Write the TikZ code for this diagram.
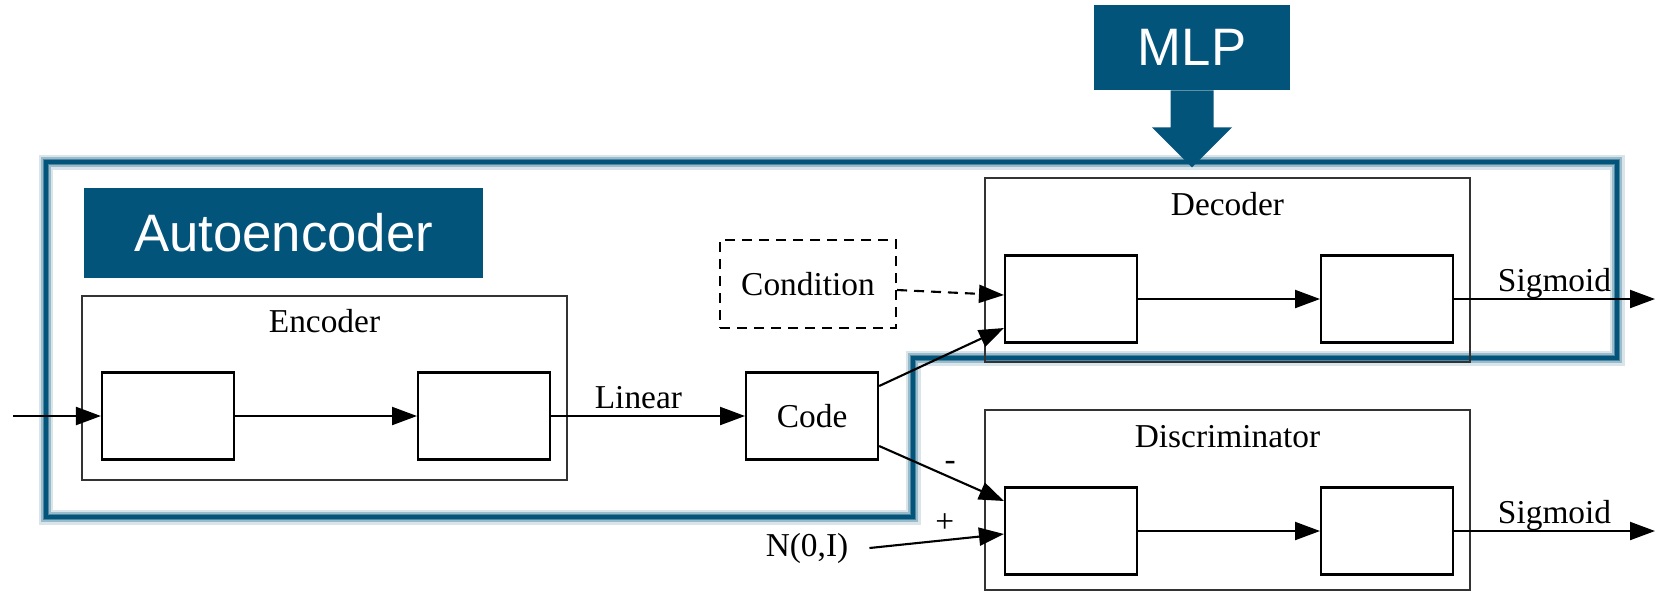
\documentclass[tikz,border=0pt]{standalone}
\usepackage{fontspec}
\setmainfont{Liberation Serif}
\newfontfamily\bannerfont{Liberation Sans}
\usetikzlibrary{arrows.meta, positioning}
\definecolor{aeblue}{RGB}{3,84,122}
\tikzset{
  blk/.style={
    rectangle,
    minimum width=2.64cm,
    minimum height=1.74cm,
    align=center,
    draw=black,
    line width=1.2pt
  },
  cond/.style={
    rectangle,
    minimum width=3.52cm,
    minimum height=1.76cm,
    align=center,
    draw=black,
    dash pattern=on 0.2cm off 0.14cm,
    line width=1.2pt
  },
  cluster/.style={
    rectangle,
    minimum width=9.7cm,
    minimum height=3.68cm,
    draw=black!80,
    line width=1.2pt
  },
  banner/.style={
    rectangle,
    fill=aeblue,
    text=white,
    font=\bannerfont\fontsize{30}{36}\selectfont
  },
  arrow/.style={line width=1.2pt, -{Triangle[length=0.5cm, width=0.36cm]}},
  dasharrow/.style={arrow, dash pattern=on 0.2cm off 0.14cm},
  lbl/.style={inner sep=1pt, text depth=0.25em},
  glow/.style={line join=miter}
}

\begin{document}
\begin{tikzpicture}[x=0.02cm, y=-0.02cm, font=\fontsize{19}{23}\selectfont]
  \useasboundingbox (0,0) rectangle (1655,593);

  % autoencoder outline with soft edge
  \foreach \w/\c in {0.3cm/15, 0.2cm/40, 0.12cm/70, 0.08cm/100}
    \draw[glow, line width=\w, aeblue!\c] (46,162) -- (1617,162) -- (1617,358)
      -- (913,358) -- (913,517) -- (46,517) -- cycle;

  % banners
  \node[banner, minimum width=7.98cm, minimum height=1.8cm] (aetag) at (283.5,233) {Autoencoder};
  \node[banner, minimum width=3.92cm, minimum height=1.7cm] (mlp) at (1192,47.5) {MLP};
  \fill[aeblue] ([xshift=-0.43cm]mlp.south) -- ++(0,37) -- ++(-18.5,0) -- ++(40,40)
    -- ++(40,-40) -- ++(-18.5,0) -- ([xshift=0.43cm]mlp.south) -- cycle;

  % clusters
  \node[cluster] (enc) at (324.5,388) {};
  \node (enctitle) at ([yshift=-0.52cm]enc.north) {Encoder};
  \node[cluster] (dec) at (1227.5,270) {};
  \node (dectitle) at ([yshift=-0.54cm]dec.north) {Decoder};
  \node[cluster, minimum height=3.6cm] (disc) at (1227.5,500) {};
  \node (disctitle) at ([yshift=-0.56cm]disc.north) {Discriminator};

  % blocks
  \node[blk] (e1) at (168,416) {};
  \node[blk, right=3.64cm of e1] (e2) {};
  \node[blk, right=3.88cm of e2] (code) {Code};
  \node[cond] (cond) at (808,284) {Condition};
  \node[blk] (d1) at (1071,299) {};
  \node[blk, right=3.64cm of d1] (d2) {};
  \node[blk] (c1) at (1071,531) {};
  \node[blk, right=3.64cm of c1] (c2) {};
  \node (noise) at (807,548) {N(0,I)};
  \coordinate (in) at (13,416);
  \coordinate (decout) at (1655,299);
  \coordinate (discout) at (1655,531);

  % connections
  \draw[arrow] (in) -- (e1);
  \draw[arrow] (e1) -- (e2);
  \draw[arrow] (e2) -- node[lbl, above, pos=0.45] {Linear} (code);
  \draw[dasharrow] ([yshift=-0.12cm]cond.east) -- ([yshift=0.08cm]d1.west);
  \draw[arrow] ([yshift=0.6cm]code.east) -- ([yshift=-0.58cm]d1.west);
  \draw[arrow] ([yshift=-0.6cm]code.east) -- node[lbl, above, pos=0.57] {-} ([yshift=0.6cm]c1.west);
  \draw[arrow] ([xshift=0.3cm]noise.east) -- node[lbl, above, pos=0.56] {+} ([yshift=-0.06cm]c1.west);
  \draw[arrow] (d1) -- (d2);
  \draw[arrow] (d2) -- node[lbl, above] {Sigmoid} (decout);
  \draw[arrow] (c1) -- (c2);
  \draw[arrow] (c2) -- node[lbl, above] {Sigmoid} (discout);
\end{tikzpicture}
\end{document}
